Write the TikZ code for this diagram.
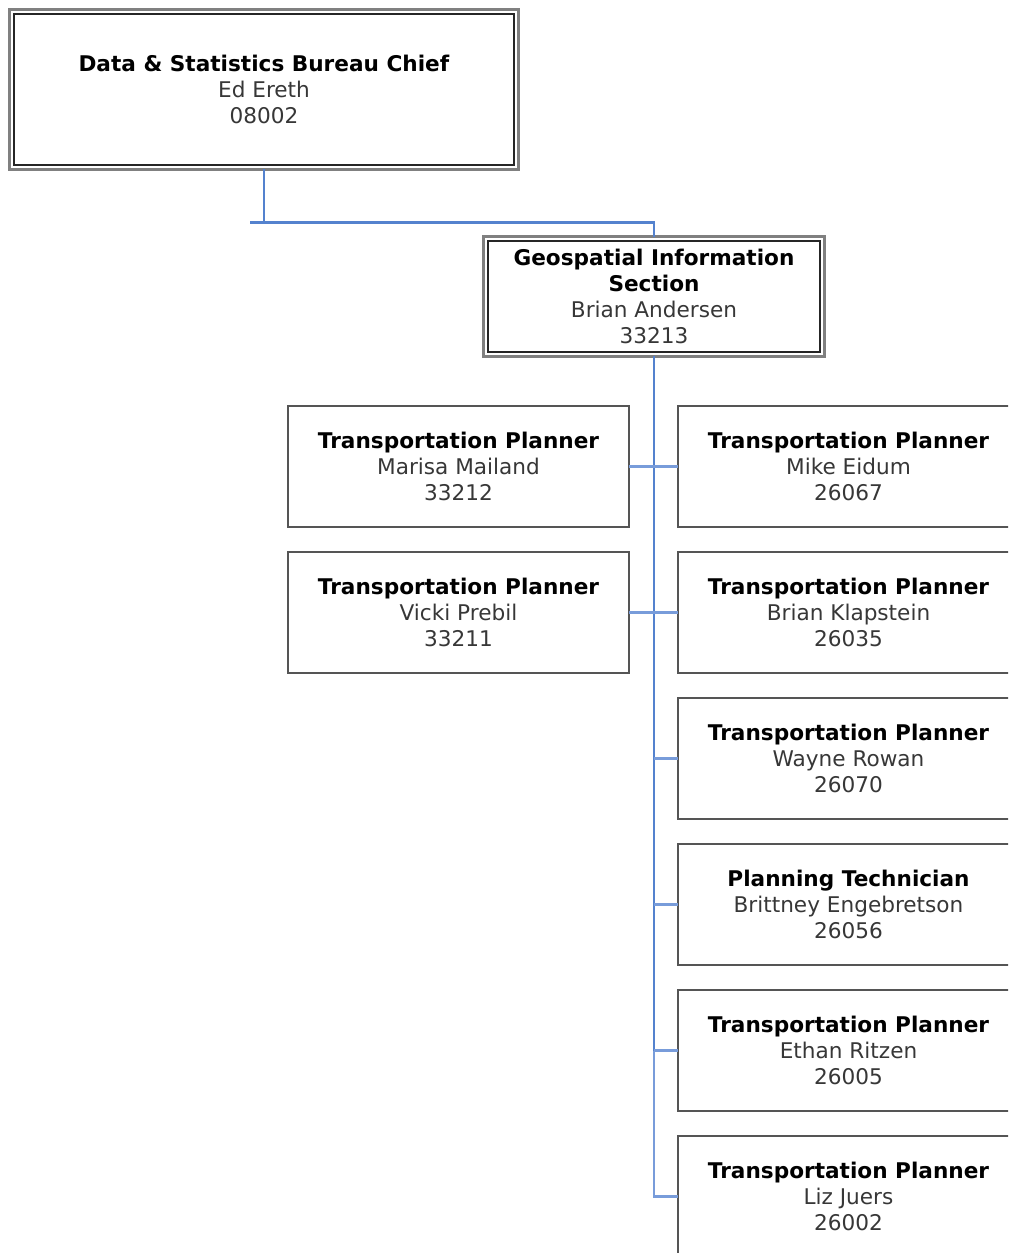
\documentclass[tikz,border=0pt]{standalone}
\usepackage{fontspec}
\setmainfont{DejaVu Sans}
\usetikzlibrary{calc}
\definecolor{linkblue}{RGB}{84,130,206}
\definecolor{stubblue}{RGB}{120,156,218}
\definecolor{boxgray}{RGB}{85,85,85}
\definecolor{txtgray}{RGB}{55,55,55}

\begin{document}
\begin{tikzpicture}[x=0.02cm,y=-0.02cm,
    box/.style={draw=boxgray, line width=1.1pt, outer sep=0pt,
                minimum width=6.82cm, minimum height=2.42cm, align=center,
                text=txtgray, font=\fontsize{12.3}{14.75}\selectfont},
    chief/.style={box, draw=gray, line width=1.7pt,
                append after command={\pgfextra{\draw[line width=1pt,black!85]
                ($(\tikzlastnode.north west)+(2.7pt,-2.7pt)$)
                rectangle ($(\tikzlastnode.south east)+(-2.7pt,2.7pt)$);}}},
    trunk/.style={draw=linkblue, line width=1.5pt},
    stub/.style={draw=stubblue, line width=1.2pt}
  ]
\useasboundingbox (0,0) rectangle (1008,1253);
\clip (0,0) rectangle (1008,1253);
\fill[white] (0,0) rectangle (1008,1253);

% heads
\node[chief, minimum width=10.18cm, minimum height=3.2cm] (bureau) at (264,89.5)
  {\textcolor{black}{\textbf{Data \& Statistics Bureau Chief}}\\Ed Ereth\\08002};
\node[chief, minimum height=2.4cm] (geo) at (654,296.5)
  {\textcolor{black}{\textbf{Geospatial Information}}\\\textcolor{black}{\textbf{Section}}\\Brian Andersen\\33213};

% left column
\node[box] (l1) at (458.5,466.5) {\textcolor{black}{\textbf{Transportation Planner}}\\Marisa Mailand\\33212};
\node[box] (l2) at (458.5,612.5) {\textcolor{black}{\textbf{Transportation Planner}}\\Vicki Prebil\\33211};

% right column
\node[box] (r1) at (848.5,466.5) {\textcolor{black}{\textbf{Transportation Planner}}\\Mike Eidum\\26067};
\node[box] (r2) at (848.5,612.5) {\textcolor{black}{\textbf{Transportation Planner}}\\Brian Klapstein\\26035};
\node[box] (r3) at (848.5,758.5) {\textcolor{black}{\textbf{Transportation Planner}}\\Wayne Rowan\\26070};
\node[box] (r4) at (848.5,904.5) {\textcolor{black}{\textbf{Planning Technician}}\\Brittney Engebretson\\26056};
\node[box] (r5) at (848.5,1050.5) {\textcolor{black}{\textbf{Transportation Planner}}\\Ethan Ritzen\\26005};
\node[box] (r6) at (848.5,1196.5) {\textcolor{black}{\textbf{Transportation Planner}}\\Liz Juers\\26002};

% links
\coordinate (bus) at (250,222.5);
\draw[trunk] (bureau.south) -- (bureau.south |- bus);
\draw[trunk] (bus) -- (bus -| geo.north) -- (geo.north);
\draw[trunk] (geo.south) -- (geo.south |- r5.west);
\draw[stub] (geo.south |- r5.west) -- (geo.south |- r6.west) -- (r6.west);
\draw[stub] (l1.east) -- (r1.west);
\draw[stub] (l2.east) -- (r2.west);
\draw[stub] (geo.south |- r3.west) -- (r3.west);
\draw[stub] (geo.south |- r4.west) -- (r4.west);
\draw[stub] (geo.south |- r5.west) -- (r5.west);
\end{tikzpicture}
\end{document}
